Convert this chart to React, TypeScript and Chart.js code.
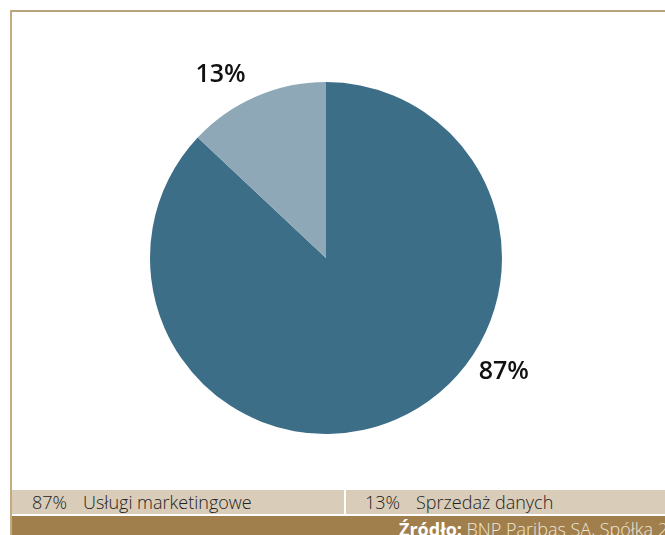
import React, { useEffect, useRef } from "react";
import { Chart, registerables } from "chart.js";

Chart.register(...registerables);

const categories = ["Usługi marketingowe", "Sprzedaż danych"];
const values = [87, 13];
const valueLabels = ["87%", "13%"];
const colors = ["#3c6e87", "#8fa8b7"];
const sourceBold = "Źródło:";
const sourceText = " BNP Paribas SA, Spółka 2011";

// angles (deg, canvas convention) where outside labels are placed
const labelAngles = [32.6, 240];
const labelGap = 35;

const FONT = "'Open Sans', 'DejaVu Sans', sans-serif";

const labelPlugin = {
  id: "outsideLabels",
  afterDatasetsDraw(chart: any) {
    const meta = chart.getDatasetMeta(0);
    const ctx = chart.ctx;
    ctx.save();
    ctx.font = `600 25px ${FONT}`;
    ctx.fillStyle = "#111111";
    ctx.textAlign = "center";
    ctx.textBaseline = "middle";
    meta.data.forEach((arc: any, i: number) => {
      const { x, y, outerRadius } = arc.getProps(["x", "y", "outerRadius"], true);
      const a = (labelAngles[i] * Math.PI) / 180;
      const r = outerRadius + labelGap;
      ctx.fillText(valueLabels[i], x + Math.cos(a) * r, y + Math.sin(a) * r);
    });
    ctx.restore();
  },
};

export default function App() {
  const ref = useRef<HTMLCanvasElement>(null);
  useEffect(() => {
    if (!ref.current) return;
    const chart = new Chart(ref.current, {
      type: "pie",
      data: {
        labels: categories,
        datasets: [
          {
            data: values,
            backgroundColor: colors,
            borderWidth: 0,
            radius: 176,
          },
        ],
      },
      options: {
        animation: false,
        responsive: false,
        maintainAspectRatio: false,
        layout: { padding: { top: 70, bottom: 54, left: 124, right: 124 } },
        plugins: {
          legend: { display: false },
          tooltip: { enabled: false },
        },
      },
      plugins: [labelPlugin],
    });
    return () => chart.destroy();
  }, []);

  return (
    <div
      style={{
        position: "absolute",
        left: 0,
        top: 0,
        width: 665,
        height: 535,
        overflow: "hidden",
        background: "#ffffff",
        fontFamily: FONT,
      }}
    >
      <div
        style={{
          position: "absolute",
          left: 10,
          top: 10,
          width: 700,
          height: 600,
          borderLeft: "2px solid #c2ab80",
          borderTop: "2px solid #b9a47c",
        }}
      />
      <canvas
        ref={ref}
        width={600}
        height={476}
        style={{ position: "absolute", left: 26, top: 12, width: 600, height: 476 }}
      />
      {/* legend bar */}
      <div
        style={{
          position: "absolute",
          left: 12,
          top: 490,
          width: 653,
          height: 24,
          background: "#d9ccb8",
        }}
      />
      <div
        style={{
          position: "absolute",
          left: 344,
          top: 490,
          width: 2,
          height: 24,
          background: "#ffffff",
        }}
      />
      {categories.map((c, i) => (
        <div
          key={c}
          style={{
            position: "absolute",
            left: i === 0 ? 32 : 365,
            top: 490,
            height: 24,
            lineHeight: "25px",
            fontSize: 18,
            fontWeight: 300,
            color: "#222222",
            whiteSpace: "nowrap",
          }}
        >
          <span style={{ display: "inline-block", width: 51 }}>{valueLabels[i]}</span>
          <span>{c}</span>
        </div>
      ))}
      {/* footer */}
      <div
        style={{
          position: "absolute",
          left: 12,
          top: 516,
          width: 653,
          height: 19,
          background: "#a07f4d",
          overflow: "hidden",
        }}
      >
        <div
          style={{
            position: "absolute",
            left: 387,
            top: 1,
            fontSize: 18,
            lineHeight: "24px",
            whiteSpace: "nowrap",
            color: "#efe6d6",
            fontWeight: 300,
          }}
        >
          <span style={{ fontWeight: 700, color: "#ffffff" }}>{sourceBold}</span>
          {sourceText}
        </div>
      </div>
    </div>
  );
}
